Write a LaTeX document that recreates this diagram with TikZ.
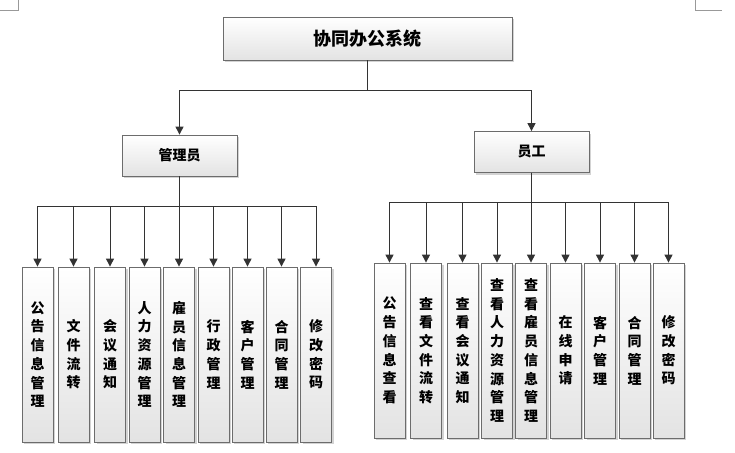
\documentclass[tikz,border=0pt]{standalone}
\usepackage{fontspec}
\newfontfamily\cjk{Noto Sans CJK SC}
\usetikzlibrary{arrows.meta,shadows}
\begin{document}
\begin{tikzpicture}[x=1pt,y=-1pt,
  box/.style={draw=gray!85!black, line width=0.8pt, top color=white, bottom color=gray!22,
    drop shadow={shadow xshift=2pt, shadow yshift=-2pt, opacity=0.35, fill=gray}, inner sep=0pt},
  headbox/.style={box, minimum width=289pt, minimum height=43pt, font=\cjk\fontsize{18}{20}\selectfont\bfseries},
  midbox/.style={box, minimum width=115pt, minimum height=41pt, font=\cjk\fontsize{14}{16}\selectfont\bfseries},
  leaf/.style={box, minimum width=31pt, minimum height=175pt, align=center, font=\cjk\fontsize{14}{18.7}\selectfont\bfseries},
  arr/.style={draw=gray!40!black, line width=1pt, -{Triangle[width=8pt,length=8pt]}}]
\useasboundingbox (0,0) rectangle (735,452);
\draw[gray!80, line width=0.8pt] (0,10) -- (18,10) -- (18,0);
\draw[gray!80, line width=0.8pt] (695,0) -- (695,10) -- (722,10);

\node[headbox] (top) at (367.5,38.5) {协同办公系统};
\node[midbox] (adm) at (179.5,155.5) {管理员};
\node[midbox] (emp) at (531.5,152) {员工};

\draw[arr] (top.south) -- ++(0,30) -| (adm.north);
\draw[arr] (top.south) -- ++(0,30) -| (emp.north);

% left leaves
\foreach \n/\x/\t in {1/37.5/公\\告\\信\\息\\管\\理, 2/73.5/文\\件\\流\\转, 3/110/会\\议\\通\\知,
  4/144.5/人\\力\\资\\源\\管\\理, 5/179/雇\\员\\信\\息\\管\\理, 6/213.5/行\\政\\管\\理,
  7/247.5/客\\户\\管\\理, 8/281.5/合\\同\\管\\理, 9/316/修\\改\\密\\码}
  {\node[leaf] (l\n) at (\x,354.5) {\t};
   \draw[arr] (adm.south) -- ++(0,30) -| (l\n.north);}

% right leaves
\foreach \n/\x/\t in {1/389.5/公\\告\\信\\息\\查\\看, 2/426/查\\看\\文\\件\\流\\转, 3/462.5/查\\看\\会\\议\\通\\知,
  4/497/查\\看\\人\\力\\资\\源\\管\\理, 5/531/查\\看\\雇\\员\\信\\息\\管\\理, 6/565.5/在\\线\\申\\请,
  7/600/客\\户\\管\\理, 8/634.5/合\\同\\管\\理, 9/668.5/修\\改\\密\\码}
  {\node[leaf] (r\n) at (\x,350.5) {\t};
   \draw[arr] (emp.south) -- ++(0,30) -| (r\n.north);}
\end{tikzpicture}
\end{document}
